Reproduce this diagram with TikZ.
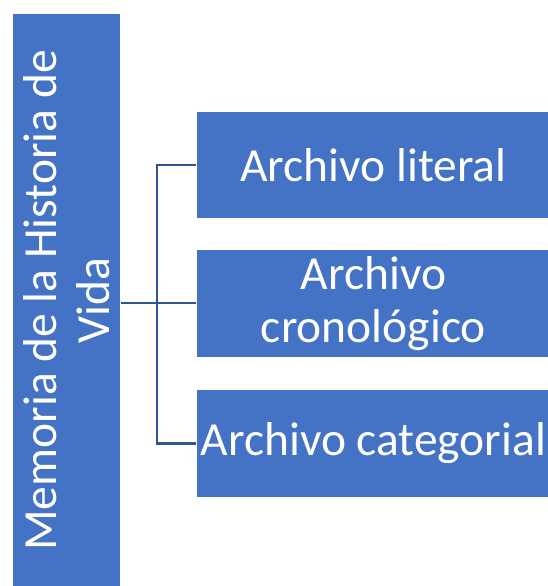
\documentclass[tikz,border=0pt]{standalone}
\usepackage{fontspec}
\setmainfont{Carlito}
\definecolor{boxblue}{HTML}{4472C4}
\definecolor{lineblue}{HTML}{2F5597}
\begin{document}
\begin{tikzpicture}[x=1pt,y=-1pt,
  blk/.style={fill=boxblue,draw=white,line width=0.8pt,inner sep=0pt,text=white,align=center,font=\fontsize{47.5}{53}\selectfont},
  conn/.style={draw=lineblue,line width=2.2pt}]
\useasboundingbox (0,0) rectangle (548,586);
\node[blk,minimum width=108pt,minimum height=574pt,anchor=north west] (root) at (12,13) {};
\node[text=white,align=center,font=\fontsize{47.5}{53}\selectfont,rotate=90] (roottxt) at (root.center) {Memoria de la Historia de\\Vida};
\node[blk,minimum width=354pt,minimum height=107pt,anchor=north west] (a) at (196,111) {Archivo literal};
\node[blk,minimum width=354pt,minimum height=108pt,anchor=north west] (b) at (196,249) {Archivo\\cronológico};
\node[blk,minimum width=354pt,minimum height=108pt,anchor=north west] (c) at (196,389) {Archivo categorial};
\coordinate (j) at (157,303);
\draw[conn] (root.east |- j) -- (b.west |- j);
\draw[conn] (a.west) -- (j |- a.west) -- (j |- c.west) -- (c.west);
\end{tikzpicture}
\end{document}
